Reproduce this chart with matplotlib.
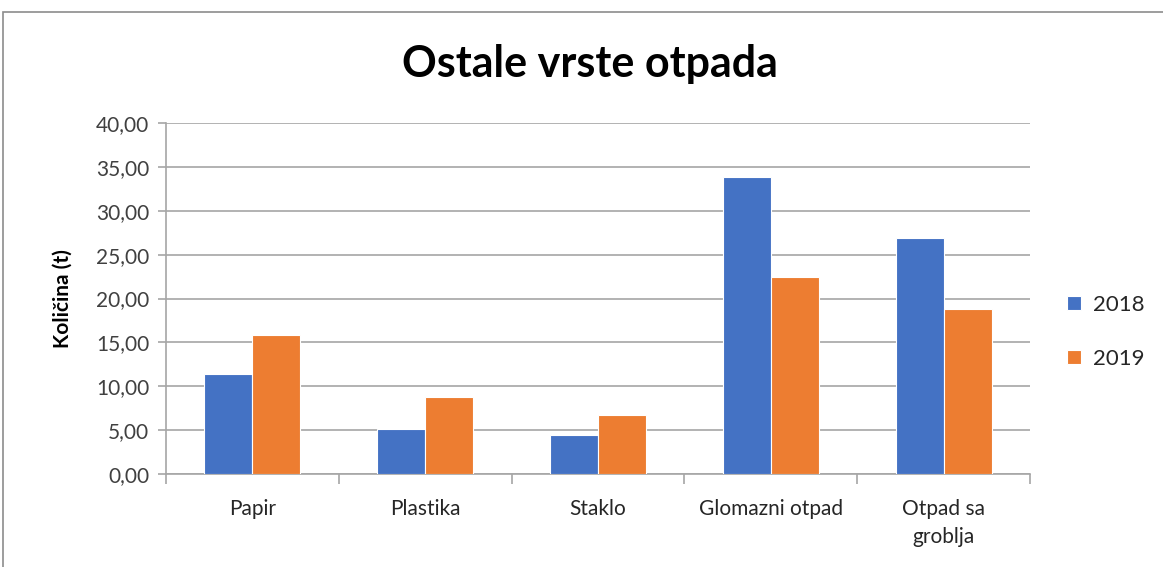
import numpy as np
import matplotlib.pyplot as plt
from matplotlib.patches import Rectangle
from matplotlib.ticker import FuncFormatter

plt.rcParams['font.family'] = ['Lato', 'DejaVu Sans']

categories = ['Papir', 'Plastika', 'Staklo', 'Glomazni otpad', 'Otpad sa\ngroblja']
vals_2018 = [11.4, 5.1, 4.5, 33.9, 26.9]
vals_2019 = [15.8, 8.8, 6.7, 22.4, 18.8]
series = ['2018', '2019']

blue = '#4472c4'
orange = '#ed7d31'
grid_c = '#a6a6a6'
text_c = '#262626'

fig = plt.figure(figsize=(11.63, 5.67), dpi=100)
# chart border
fig.patches.append(Rectangle((3 / 1163, -0.05), 1.2, 0.05 + 1 - 12 / 567,
                             transform=fig.transFigure, fill=False,
                             edgecolor='#8c8c8c', linewidth=1.2))

ax = fig.add_axes([166 / 1163, 1 - 474 / 567, (1030 - 166) / 1163, (474 - 123) / 567])
x = np.arange(len(categories))
w = 0.278
ax.bar(x - w / 2, vals_2018, w, color=blue, edgecolor='white', linewidth=0.8, label=series[0], zorder=3)
ax.bar(x + w / 2, vals_2019, w, color=orange, edgecolor='white', linewidth=0.8, label=series[1], zorder=3)

ax.set_xlim(-0.5, len(categories) - 0.5)
ax.set_ylim(0, 40)
ax.set_yticks(np.arange(0, 41, 5))
ax.yaxis.set_major_formatter(FuncFormatter(lambda v, p: f'{v:.2f}'.replace('.', ',')))
ax.grid(axis='y', color=grid_c, linewidth=1.2, zorder=0)

ax.set_xticks(x)
ax.set_xticklabels(categories, fontsize=15, linespacing=1.5)
ax.set_xticks(np.arange(-0.5, len(categories)), minor=True)
ax.tick_params(axis='x', which='major', length=0, pad=18, labelcolor=text_c)
ax.tick_params(axis='x', which='minor', length=7, color=grid_c, width=1.2)
ax.tick_params(axis='y', length=6, color=grid_c, width=1.2, labelsize=15, pad=6,
               labelcolor='#404040')

for s in ['top', 'right']:
    ax.spines[s].set_visible(False)
for s in ['left', 'bottom']:
    ax.spines[s].set_color(grid_c)
    ax.spines[s].set_linewidth(1.2)

ax.set_ylabel('Količina (t)', fontsize=15, fontweight='bold', labelpad=17)
fig.text(590 / 1163, 1 - 64 / 567, 'Ostale vrste otpada', fontsize=31, fontweight='bold',
         ha='center', va='center')

ax.legend(loc='center left', bbox_to_anchor=(1.02, 0.405), frameon=False, fontsize=16,
          handlelength=0.6, handleheight=0.6, labelspacing=1.55, handletextpad=0.55,
          labelcolor=text_c)

fig.savefig('out.png', dpi=100)
